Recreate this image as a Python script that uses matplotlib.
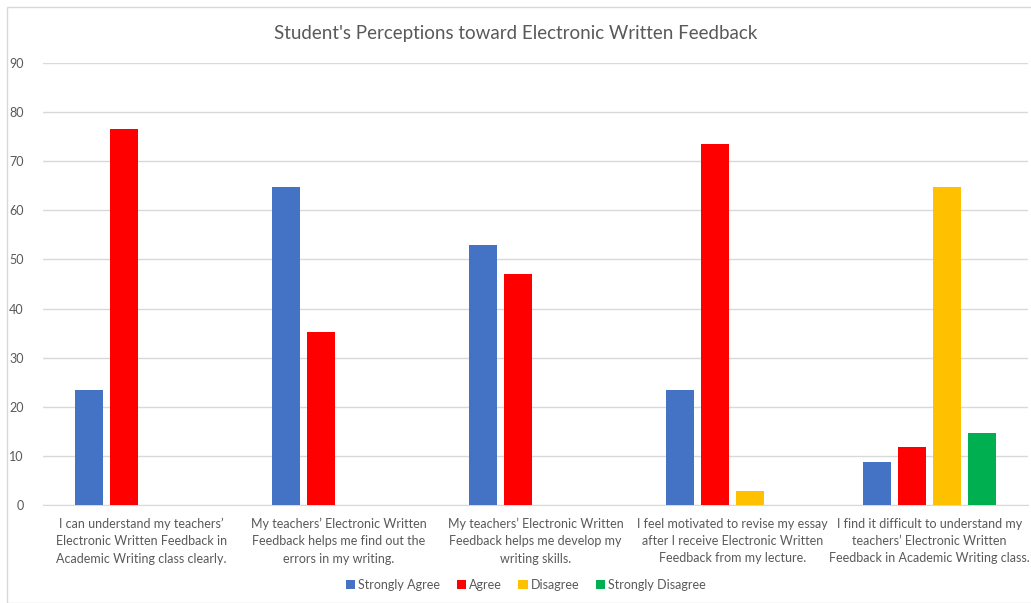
import numpy as np
import matplotlib.pyplot as plt
from matplotlib.patches import Rectangle

categories = [
    "I can understand my teachers’\nElectronic Written Feedback in\nAcademic Writing class clearly.",
    "My teachers’ Electronic Written\nFeedback helps me find out the\nerrors in my writing.",
    "My teachers’ Electronic Written\nFeedback helps me develop my\nwriting skills.",
    "I feel motivated to revise my essay\nafter I receive Electronic Written\nFeedback from my lecture.",
    "I find it difficult to understand my\nteachers’ Electronic Written\nFeedback in Academic Writing class.",
]
strongly_agree = [23.5, 64.7, 52.9, 23.5, 8.8]
agree = [76.5, 35.3, 47.1, 73.5, 11.8]
disagree = [0, 0, 0, 2.9, 64.7]
strongly_disagree = [0, 0, 0, 0, 14.7]
series_names = ["Strongly Agree", "Agree", "Disagree", "Strongly Disagree"]
colors = ["#4472C4", "#FF0000", "#FFC000", "#00B050"]

plt.rcParams['font.family'] = ['Lato', 'DejaVu Sans']
grey = "#595959"

fig = plt.figure(figsize=(10.31, 6.03), dpi=100)
ax = fig.add_axes([43/1031, 1 - 505/603, (1028 - 43)/1031, (505 - 63)/603])

x = np.arange(len(categories))
slot = 0.178
width = 0.142
all_series = [strongly_agree, agree, disagree, strongly_disagree]
for i, (vals, name, c) in enumerate(zip(all_series, series_names, colors)):
    ax.bar(x + (i - 1.5) * slot, vals, width, color=c, label=name, zorder=3)

ax.set_xlim(-0.5, len(categories) - 0.5)
ax.set_ylim(0, 90)
ax.set_yticks(range(0, 91, 10))
ax.grid(axis='y', color="#D9D9D9", linewidth=1, zorder=0)
ax.set_xticks(x)
ax.set_xticklabels(categories, fontsize=9, color=grey, linespacing=1.55)
ax.tick_params(axis='y', labelsize=9, labelcolor=grey, length=0, pad=14)
ax.tick_params(axis='x', length=0, pad=9)
for s in ['top', 'right', 'left']:
    ax.spines[s].set_visible(False)
ax.spines['bottom'].set_color("#D9D9D9")

fig.text(0.5, 1 - 33/603, "Student's Perceptions toward Electronic Written Feedback",
         ha='center', va='center', fontsize=13.5, color=grey)

fig.legend(loc='center', bbox_to_anchor=(526/1031, 1 - 585/603), ncol=4, frameon=False,
           fontsize=9, labelcolor=grey, handlelength=0.75, handleheight=0.75,
           handletextpad=0.25, columnspacing=1.3)

fig.patches.append(Rectangle((7/1031, 0), 1.0, 1 - 7/603, transform=fig.transFigure,
                             fill=False, edgecolor="#D9D9D9", linewidth=1))

fig.savefig("out.png", dpi=100)
